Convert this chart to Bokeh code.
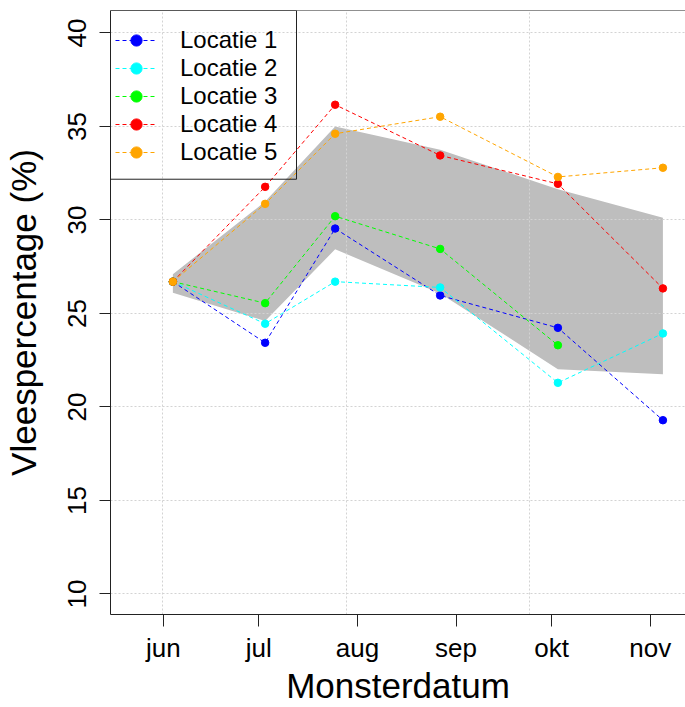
import math
import pandas as pd
from bokeh.plotting import figure
from bokeh.models import Range1d, FixedTicker, Legend, LegendItem, Span, BoxAnnotation
from bokeh.embed import file_html
from bokeh.resources import INLINE

# ---------------- data ----------------
ref_date = "2014-06-01"
sample_dates = ["2014-06-04", "2014-07-03", "2014-07-25", "2014-08-27", "2014-10-03", "2014-11-05"]
month_starts = ["2014-06-01", "2014-07-01", "2014-08-01", "2014-09-01", "2014-10-01", "2014-11-01"]
month_labels = ["jun", "jul", "aug", "sep", "okt", "nov"]
grid_dates = ["2014-05-31 16:00", "2014-07-28 12:00", "2014-09-24 03:00", "2014-11-20 19:00"]

series_names = ["Locatie 1", "Locatie 2", "Locatie 3", "Locatie 4", "Locatie 5"]
series_colors = ["#0000FF", "#00FFFF", "#00FF00", "#FF0000", "#FFA500"]
locatie_1 = [26.70, 23.43, 29.54, 25.96, 24.23, 19.29]
locatie_2 = [26.70, 24.45, 26.70, 26.39, 21.29, 23.93]
locatie_3 = [26.70, 25.55, 30.20, 28.45, 23.30, float("nan")]
locatie_4 = [26.70, 31.77, 36.16, 33.45, 31.93, 26.34]
locatie_5 = [26.70, 30.86, 34.61, 35.52, 32.30, 32.79]
band_upper = [27.10, 30.98, 35.00, 33.75, 31.64, 30.12]
band_lower = [26.10, 24.60, 28.43, 26.07, 22.02, 21.75]

y_ticks = [10, 15, 20, 25, 30, 35, 40]
y_lo, y_hi = 8.9, 41.2
x_lo, x_hi = -16.6, 164.1

# ---------------- helpers ----------------
ref = pd.Timestamp(ref_date)
def day_offset(d):
    return (pd.Timestamp(d) - ref).total_seconds() / 86400.0

x_days = [day_offset(d) for d in sample_dates]
tick_days = [day_offset(d) for d in month_starts]
grid_days = [day_offset(d) for d in grid_dates]

FONT = "Liberation Sans"
W, H = 685, 707
FL, FT, FB = 110, 10, 615  # frame left / top / bottom in px

p = figure(width=W, height=H,
           x_range=Range1d(x_lo, x_hi), y_range=Range1d(y_lo, y_hi),
           output_backend="svg", toolbar_location=None,
           min_border_left=FL, min_border_right=0,
           min_border_top=FT, min_border_bottom=H - FB)
p.outline_line_color = None
p.background_fill_color = "white"
p.border_fill_color = "white"

# band
p.varea(x=x_days, y1=band_lower, y2=band_upper, fill_color="#BEBEBE", fill_alpha=1.0, level="image")

items = []
all_series = [locatie_1, locatie_2, locatie_3, locatie_4, locatie_5]
for name, col, vals in zip(series_names, series_colors, all_series):
    lr = p.line(x_days, vals, line_color=col, line_width=1, line_dash="4 3")
    sr = p.scatter(x_days, vals, marker="circle", size=7.5, fill_color=col, line_color=col)
    items.append(LegendItem(label=name, renderers=[lr, sr]))

# axes
xa = p.xaxis[0]
xa.ticker = FixedTicker(ticks=tick_days)
xa.major_label_overrides = {t: lab for t, lab in zip(tick_days, month_labels)}
xa.axis_label = "Monsterdatum"
ya = p.yaxis[0]
ya.ticker = FixedTicker(ticks=y_ticks)
ya.axis_label = "Vleespercentage (%)"
ya.major_label_orientation = "vertical"

for ax in (xa, ya):
    ax.axis_line_color = "#222222"
    ax.major_tick_line_color = "#222222"
    ax.minor_tick_line_color = None
    ax.major_tick_in = 0
    ax.major_label_text_font = FONT
    ax.major_label_text_font_size = "26px"
    ax.major_label_text_color = "black"
    ax.axis_label_text_font = FONT
    ax.axis_label_text_font_size = "35px"
    ax.axis_label_text_font_style = "normal"
    ax.axis_label_text_color = "black"
xa.major_tick_out = 12
ya.major_tick_out = 11
xa.major_label_standoff = 6
xa.axis_label_standoff = 0
ya.major_label_standoff = 13
ya.axis_label_standoff = 23

# top border
p.add_layout(Span(location=y_hi, dimension="width", line_color="#222222", line_width=1))

# grid
p.xgrid.ticker = FixedTicker(ticks=grid_days)
for g in (p.xgrid[0], p.ygrid[0]):
    g.grid_line_color = "#D3D3D3"
    g.grid_line_dash = "2 2"
    g.grid_line_width = 1

# legend box (frame corner to px 296 x 179)
frame_w = W - FL
frame_h = FB - FT
box_right = x_lo + (296 - FL) / frame_w * (x_hi - x_lo)
box_bottom = y_hi - (179 - FT) / frame_h * (y_hi - y_lo)
p.add_layout(BoxAnnotation(left=x_lo, right=box_right, top=y_hi, bottom=box_bottom,
                           fill_alpha=0.0, line_color="#222222", line_alpha=1.0,
                           line_width=1, level="overlay"))

row_h = 28
legend = Legend(items=items, location=(5, 448), margin=0, padding=0, spacing=0,
                glyph_width=42, glyph_height=row_h, label_height=row_h, label_width=111,
                label_standoff=23, label_text_font=FONT, label_text_font_size="24px",
                label_text_color="black",
                border_line_color=None, background_fill_alpha=0.0)
p.add_layout(legend)

open("out.html", "w").write(file_html(p, INLINE))
